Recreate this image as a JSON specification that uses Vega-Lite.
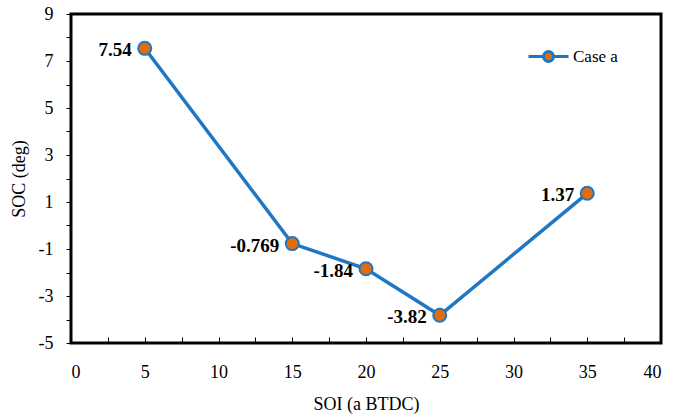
{
  "$schema": "https://vega.github.io/schema/vega-lite/v6.json",
  "autosize": {"type": "none"},
  "padding": {"left": 71, "top": 14, "right": 15, "bottom": 76},
  "width": 590,
  "height": 329,
  "background": "white",
  "config": {
    "font": "Liberation Serif",
    "view": {"stroke": "black", "strokeWidth": 3},
    "axis": {"domain": false, "grid": false, "labelFont": "Liberation Serif", "titleFont": "Liberation Serif", "labelColor": "black", "titleColor": "black", "tickColor": "black", "titleFontWeight": "normal", "labelFontSize": 18, "titleFontSize": 18}
  },
  "data": {"values": [
    {"soi": 5, "soc": 7.54, "label": "7.54", "series": "Case a"},
    {"soi": 15, "soc": -0.769, "label": "-0.769", "series": "Case a"},
    {"soi": 20, "soc": -1.84, "label": "-1.84", "series": "Case a"},
    {"soi": 25, "soc": -3.82, "label": "-3.82", "series": "Case a"},
    {"soi": 35, "soc": 1.37, "label": "1.37", "series": "Case a"}
  ]},
  "encoding": {
    "x": {"field": "soi", "type": "quantitative", "scale": {"domain": [0, 40], "nice": false, "zero": false}},
    "y": {"field": "soc", "type": "quantitative", "scale": {"domain": [-5, 9], "nice": false, "zero": false}}
  },
  "resolve": {"axis": {"x": "independent", "y": "independent"}},
  "layer": [
    {
      "mark": {"type": "line", "strokeWidth": 3.5},
      "encoding": {
        "x": {"field": "soi", "type": "quantitative", "axis": {"orient": "bottom", "values": [0,5,10,15,20,25,30,35,40], "labelExpr": "'' + datum.value", "ticks": false, "labelPadding": 20, "title": "SOI (a BTDC)", "titlePadding": 14}},
        "y": {"field": "soc", "type": "quantitative", "axis": {"orient": "left", "values": [-5,-3,-1,1,3,5,7,9], "labelExpr": "'' + datum.value", "tickSize": 5, "labelPadding": 13, "title": "SOC (deg)", "titlePadding": 10}},
        "color": {"field": "series", "type": "nominal", "scale": {"range": ["#1F77C4"]},
          "legend": {"title": null, "orient": "none", "legendX": 466, "legendY": 31, "padding": 0,
            "symbolType": "M-2,0L-0.5,0M0.5,0L2,0M-0.5,0A0.5,0.5 0 1,1 0.5,0A0.5,0.5 0 1,1 -0.5,0Z",
            "symbolSize": 400, "symbolStrokeWidth": 3, "symbolFillColor": "#E46C0A",
            "labelFont": "Liberation Serif", "labelFontSize": 17, "labelColor": "black", "labelOffset": 13,
            "encode": {"symbols": {"update": {"fill": {"value": "#E46C0A"}, "fillOpacity": {"value": 1}, "opacity": {"value": 1}}}}}}
      }
    },
    {
      "mark": {"type": "point", "filled": true, "size": 170, "fill": "#E46C0A", "stroke": "#1F77C4", "strokeWidth": 2, "opacity": 1},
      "encoding": {
        "x": {"field": "soi", "type": "quantitative", "axis": {"orient": "bottom", "values": [0,2.5,5,7.5,10,12.5,15,17.5,20,22.5,25,27.5,30,32.5,35,37.5,40], "tickSize": -6, "labels": false, "title": null}},
        "y": {"field": "soc", "type": "quantitative", "axis": {"orient": "left", "values": [-4,-2,0,2,4,6,8], "tickSize": 5, "labels": false, "title": null}}
      }
    },
    {
      "mark": {"type": "text", "align": "right", "baseline": "middle", "dx": -13, "dy": 2, "fontSize": 19, "fontWeight": "bold", "font": "Liberation Serif", "color": "black"},
      "encoding": {
        "x": {"field": "soi", "type": "quantitative", "axis": null},
        "y": {"field": "soc", "type": "quantitative", "axis": null},
        "text": {"field": "label"}
      }
    }
  ]
}
